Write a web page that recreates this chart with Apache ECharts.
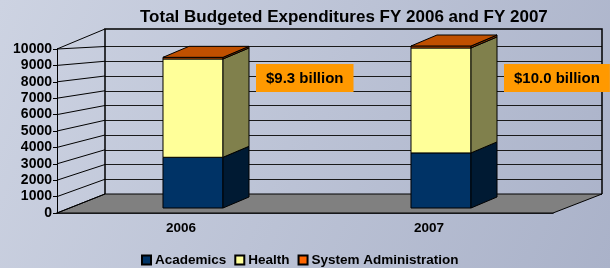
<html lang="en">
<head>
<meta charset="UTF-8">
<title>Total Budgeted Expenditures</title>
<style>
  html, body { margin: 0; padding: 0; }
  #echart { width: 610px; height: 268px; }
</style>
</head>
<body>
<div id="echart"></div>
<script src="https://cdn.jsdelivr.net/npm/echarts@6/dist/echarts.min.js"></script>
<script>
// data
const years = ['2006', '2007']
const academics = [3130, 3400]
const health = [6070, 6480]
const sysAdmin = [100, 120]
const totalLabels = ['$9.3 billion', '$10.0 billion']
const yMax = 10000
const yStep = 1000

const font = 'Liberation Sans, Arial, sans-serif'
const depth = [26, -11] // oblique offset of the bars

const chart = echarts.init(document.getElementById('echart'))

// one custom series per stacked part, front face + side (+ top on the last)
function barSeries(name, values, bases, colors, isTop) {
  return {
    type: 'custom',
    name: name,
    xAxisIndex: 1,
    yAxisIndex: 1,
    itemStyle: { color: colors.front, borderColor: '#000', borderWidth: 1 },
    encode: { x: 0, y: 2 },
    data: values.map((v, i) => [i, bases[i], bases[i] + v]),
    renderItem: (params, api) => {
      const w = api.size([1, 0])[0] * 0.242
      const b = api.coord([api.value(0), api.value(1)])
      const t = api.coord([api.value(0), api.value(2)])
      const xl = b[0] - w / 2, xr = b[0] + w / 2
      const dx = depth[0], dy = depth[1]
      const line = { stroke: '#000', lineWidth: 1 }
      const kids = [
        { type: 'rect', shape: { x: xl, y: t[1], width: w, height: b[1] - t[1] },
          style: Object.assign({ fill: colors.front }, line) },
        { type: 'polygon', shape: { points: [[xr, t[1]], [xr + dx, t[1] + dy], [xr + dx, b[1] + dy], [xr, b[1]]] },
          style: Object.assign({ fill: colors.side }, line) }
      ]
      if (isTop) {
        kids.push({ type: 'polygon', shape: { points: [[xl, t[1]], [xr, t[1]], [xr + dx, t[1] + dy], [xl + dx, t[1] + dy]] },
          style: Object.assign({ fill: colors.top }, line) })
      }
      return { type: 'group', children: kids }
    }
  }
}

const base0 = years.map(() => 0)
const base1 = academics.slice()
const base2 = academics.map((a, i) => a + health[i])

const labelStyle = { color: '#000', fontWeight: 'bold', fontFamily: font }

chart.setOption({
  backgroundColor: new echarts.graphic.LinearGradient(0, 0, 1, 1, [
    { offset: 0, color: '#CDD3E2' },
    { offset: 1, color: '#AAB2C9' }
  ]),
  animation: false,
  title: {
    text: 'Total Budgeted Expenditures FY 2006 and FY 2007',
    left: 135, top: 4,
    textStyle: { fontSize: 17, fontWeight: 'bold', color: '#000', fontFamily: font }
  },
  legend: {
    left: 136, top: 248,
    itemWidth: 9, itemHeight: 9, itemGap: 8,
    icon: 'rect',
    textStyle: Object.assign({ fontSize: 13.5, padding: [0, 0, 0, -1] }, labelStyle),
    data: ['Academics', 'Health', 'System Administration']
  },
  grid: [
    { left: 57, right: 57, top: 49, bottom: 55 },    // front plane (axes)
    { left: 69, right: 45, top: 46, bottom: 60 },    // bar plane
    { left: 105, right: 8, top: 46.5, bottom: 74 }   // back wall
  ],
  xAxis: [
    { gridIndex: 0, type: 'category', data: years,
      axisLine: { lineStyle: { color: '#000', width: 1.5 } },
      axisTick: { length: 4, lineStyle: { color: '#000' } },
      axisLabel: Object.assign({ fontSize: 13.5, margin: 8 }, labelStyle) },
    { gridIndex: 1, type: 'category', data: years, show: false },
    { gridIndex: 2, type: 'category', data: years, show: false }
  ],
  yAxis: [
    { gridIndex: 0, type: 'value', min: 0, max: yMax, interval: yStep,
      axisLine: { show: true, lineStyle: { color: '#000' } },
      axisTick: { show: true, length: 4, lineStyle: { color: '#000' } },
      splitLine: { show: false },
      axisLabel: Object.assign({ fontSize: 14, margin: 5, formatter: v => String(v) }, labelStyle) },
    { gridIndex: 1, type: 'value', min: 0, max: yMax, show: false, splitLine: { show: false } },
    { gridIndex: 2, type: 'value', min: 0, max: yMax, interval: yStep,
      axisLine: { show: false }, axisTick: { show: false }, axisLabel: { show: false },
      splitLine: { show: true, lineStyle: { color: '#1a1a1a', width: 1 } } }
  ],
  series: [
    barSeries('Academics', academics, base0, { front: '#003366', side: '#001A33', top: '#002850' }, false),
    barSeries('Health', health, base1, { front: '#FFFF99', side: '#80804C', top: '#CCCC70' }, false),
    barSeries('System Administration', sysAdmin, base2, { front: '#FF6600', side: '#803300', top: '#C05000' }, true)
  ]
})

// 3D frame: floor, side wall lines and back wall edges, from the axes' scales
const frontLeft = 57, frontRight = 553, backLeft = 105, backRight = 602, wallTop = 29
const fy = v => chart.convertToPixel({ yAxisIndex: 0 }, v)
const by = v => chart.convertToPixel({ yAxisIndex: 2 }, v)
const frame = []
frame.push({ type: 'polygon', z: 1,
  shape: { points: [[frontLeft, fy(0)], [frontRight, fy(0)], [backRight, by(0)], [backLeft, by(0)]] },
  style: { fill: '#808080', stroke: '#000', lineWidth: 1 } })
for (let v = 0; v <= yMax; v += yStep) {
  frame.push({ type: 'line', z: 1,
    shape: { x1: frontLeft, y1: fy(v), x2: backLeft, y2: by(v) },
    style: { stroke: '#000', lineWidth: 1 } })
}
frame.push({ type: 'line', z: 1, shape: { x1: frontLeft, y1: fy(yMax), x2: backLeft, y2: wallTop },
  style: { stroke: '#000', lineWidth: 1 } })
frame.push({ type: 'polyline', z: 1,
  shape: { points: [[backLeft, by(0)], [backLeft, wallTop], [backRight, wallTop], [backRight, by(0)]] },
  style: { fill: null, stroke: '#000', lineWidth: 1.5 } })

// total labels to the right of each bar
totalLabels.forEach((txt, i) => {
  const cx = chart.convertToPixel({ xAxisIndex: 1 }, years[i])
  frame.push({ type: 'text', z: 5,
    x: cx + 63, y: 64,
    style: { text: txt, fill: '#000', font: 'bold 15px ' + font,
      backgroundColor: '#FF9900', padding: [7, 10, 6, 10] } })
})
chart.setOption({ graphic: frame })
</script>
</body>
</html>
